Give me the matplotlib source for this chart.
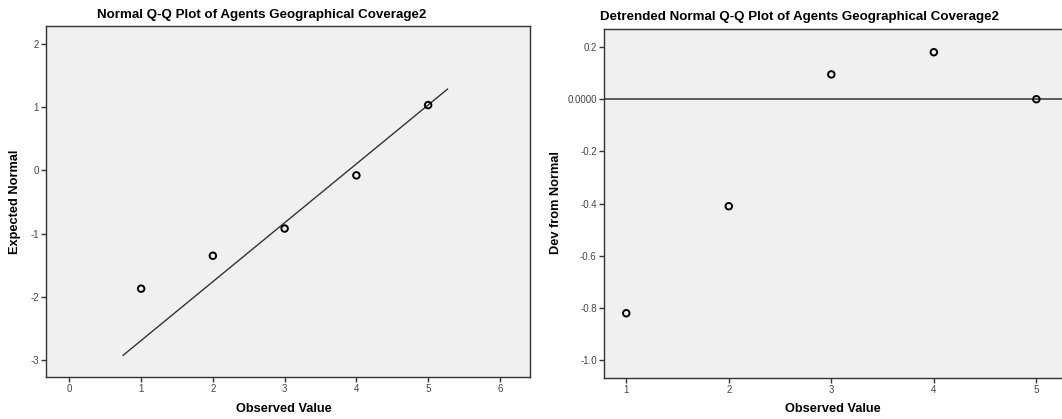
import numpy as np
import matplotlib
matplotlib.use("Agg")
import matplotlib.pyplot as plt

plt.rcParams['font.family'] = ['Liberation Sans', 'DejaVu Sans']
plt.rcParams['axes.unicode_minus'] = False

observed = [1, 2, 3, 4, 5]
expected_normal = [-1.87, -1.35, -0.92, -0.08, 1.03]
dev_from_normal = [-0.82, -0.41, 0.095, 0.18, 0.0]
line_x = [0.75, 5.27]   # span of the reference line

left_xticks = [0, 1, 2, 3, 4, 5, 6]
left_yticks = [-3, -2, -1, 0, 1, 2]
right_xticks = [1, 2, 3, 4, 5]
right_yticks = [0.2, 0.0, -0.2, -0.4, -0.6, -0.8, -1.0]
right_ylabels = ["0.2", "0.0000", "-0.2", "-0.4", "-0.6", "-0.8", "-1.0"]

# the fitted line: z = expected + dev, linear in observed value
z = np.array(expected_normal) + np.array(dev_from_normal)
slope, icpt = np.polyfit(observed, z, 1)
lx = np.array(line_x)

W, H = 1062, 419
fig = plt.figure(figsize=(W / 100, H / 100), dpi=100)

def px_axes(x0, y0, x1, y1):
    return fig.add_axes([x0 / W, 1 - y1 / H, (x1 - x0) / W, (y1 - y0) / H])

def style(ax):
    ax.set_facecolor('#f0f0f0')
    for s in ax.spines.values():
        s.set_color('#333333')
        s.set_linewidth(1.0)
    ax.tick_params(direction='out', length=3.5, width=1.0, color='#333333',
                   labelsize=7, labelcolor='#444444', pad=1.5)

ax1 = px_axes(45.7, 25.7, 530, 377.3)
style(ax1)
ax1.plot(lx, slope * lx + icpt, color='#333333', lw=1.0)
ax1.scatter(observed, expected_normal, s=22, facecolors='none',
            edgecolors='black', linewidths=1.4, zorder=3)
ax1.set_xlim(-0.33, 6.42)
ax1.set_ylim(-3.27, 2.284)
ax1.set_xticks(left_xticks)
ax1.set_yticks(left_yticks)

ax2 = px_axes(603.7, 29, 1062, 377.7)
style(ax2)
ax2.spines['right'].set_visible(False)
ax2.axhline(0, color='#444444', lw=1.2, zorder=2)
ax2.scatter(observed, dev_from_normal, s=22, facecolors='none',
            edgecolors='black', linewidths=1.4, zorder=3)
ax2.set_xlim(0.78, 5.25)
ax2.set_ylim(-1.067, 0.269)
ax2.set_xticks(right_xticks)
ax2.set_yticks(right_yticks)
ax2.set_yticklabels(right_ylabels)

tkw = dict(fontweight='bold', color='black', ha='center', va='center')
fig.text(262 / W, 1 - 15 / H, "Normal Q-Q Plot of Agents Geographical Coverage2", fontsize=9.6, **tkw)
fig.text(800 / W, 1 - 17 / H, "Detrended Normal Q-Q Plot of Agents Geographical Coverage2", fontsize=9.6, **tkw)
fig.text(284 / W, 1 - 409 / H, "Observed Value", fontsize=9.2, **tkw)
fig.text(833 / W, 1 - 409 / H, "Observed Value", fontsize=9.2, **tkw)
fig.text(15 / W, 1 - 202 / H, "Expected Normal", rotation=90, fontsize=9.2, **tkw)
fig.text(556 / W, 1 - 203 / H, "Dev from Normal", rotation=90, fontsize=9.2, **tkw)

fig.savefig("out.png", dpi=100)
